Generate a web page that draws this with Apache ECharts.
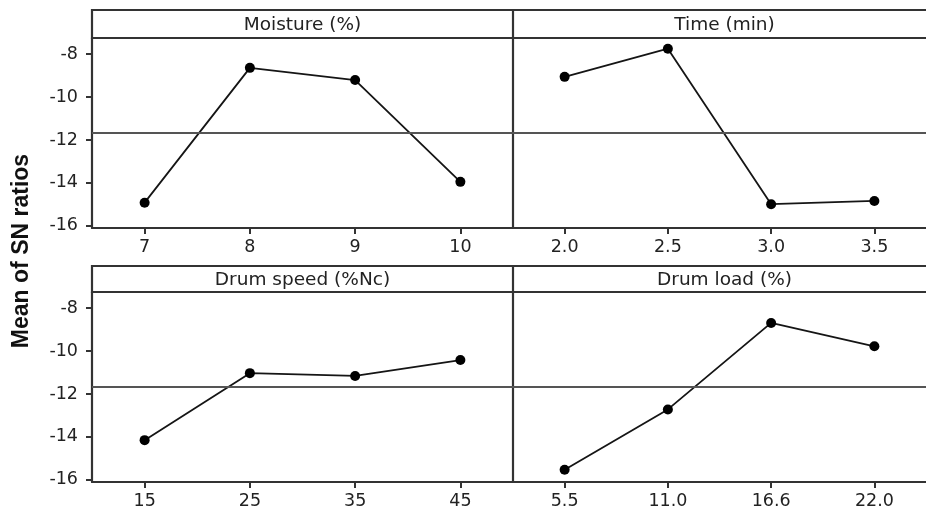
<!DOCTYPE html>
<html>
<head>
<meta charset="utf-8">
<script src="https://cdn.jsdelivr.net/npm/echarts@6/dist/echarts.min.js"></script>
<style>
html,body{margin:0;padding:0;background:#fff;}
#chart{width:926px;height:521px;}
</style>
</head>
<body>
<div id="chart"></div>
<script>
// ---- data ----
const panelTitles = ['Moisture (%)', 'Time (min)', 'Drum speed (%Nc)', 'Drum load (%)'];
const moistureLevels = ['7', '8', '9', '10'];
const moistureSN = [-14.92, -8.64, -9.21, -13.95];
const timeLevels = ['2.0', '2.5', '3.0', '3.5'];
const timeSN = [-9.06, -7.75, -14.99, -14.84];
const speedLevels = ['15', '25', '35', '45'];
const speedSN = [-14.15, -11.03, -11.16, -10.42];
const loadLevels = ['5.5', '11.0', '16.6', '22.0'];
const loadSN = [-15.53, -12.72, -8.69, -9.78];
const grandMean = -11.68;
const yMin = -16.1, yMax = -7.25;
const yAxisTitle = 'Mean of SN ratios';

// ---- layout ----
const AX = '#333333';
const TXT = '#222222';
const FONT = 'DejaVu Sans';
const colL = 92, colM = 513, colR = 936;
const rows = [{band: 10, top: 38, bottom: 228}, {band: 266, top: 292, bottom: 482}];
const levels = [moistureLevels, timeLevels, speedLevels, loadLevels];
const values = [moistureSN, timeSN, speedSN, loadSN];

const grids = [], xAxes = [], yAxes = [], series = [], graphics = [];
for (let i = 0; i < 4; i++) {
  const r = rows[Math.floor(i / 2)];
  const isLeft = i % 2 === 0;
  const left = isLeft ? colL : colM;
  const right = isLeft ? colM : colR;
  grids.push({left: left, top: r.top, width: right - left, height: r.bottom - r.top, containLabel: false});
  xAxes.push({
    type: 'category', gridIndex: i, data: levels[i], boundaryGap: true,
    axisLine: {show: true, lineStyle: {color: AX, width: 2.2}},
    axisTick: {show: true, alignWithLabel: true, length: 6, lineStyle: {color: AX, width: 2}},
    axisLabel: {color: TXT, fontFamily: FONT, fontSize: 17.5, margin: 10},
    splitLine: {show: false}
  });
  yAxes.push({
    type: 'value', gridIndex: i, min: yMin, max: yMax,
    axisLine: {show: true, lineStyle: {color: AX, width: 2.2}},
    axisTick: {show: isLeft, length: 6, lineStyle: {color: AX, width: 2}},
    axisLabel: {show: isLeft, color: TXT, fontFamily: FONT, fontSize: 17.5, margin: 14,
      showMinLabel: false, showMaxLabel: false,
      formatter: v => (Math.abs(v - Math.round(v)) < 1e-6 ? String(Math.round(v)) : '')},
    splitLine: {show: false}
  });
  series.push({
    type: 'line', xAxisIndex: i, yAxisIndex: i, data: values[i],
    symbol: 'circle', symbolSize: 10,
    lineStyle: {color: '#151515', width: 1.8},
    itemStyle: {color: '#000'},
    markLine: {
      silent: true, symbol: 'none', label: {show: false},
      lineStyle: {color: '#555555', width: 1.8, type: 'solid'},
      data: [{yAxis: grandMean}]
    },
    animation: false
  });
  // panel title
  graphics.push({
    type: 'text', x: (left + right) / 2, y: (r.band + r.top) / 2 + 1,
    style: {text: panelTitles[i], fill: TXT, font: '18.5px "' + FONT + '"', align: 'center', verticalAlign: 'middle'}
  });
}
// title bands
rows.forEach(r => {
  graphics.push({type: 'rect', shape: {x: colL, y: r.band, width: colR - colL, height: r.top - r.band},
    style: {fill: 'none', stroke: AX, lineWidth: 2.2}});
  graphics.push({type: 'line', shape: {x1: colM, y1: r.band, x2: colM, y2: r.top},
    style: {stroke: AX, lineWidth: 2.2}});
});
graphics.push({
  type: 'text', x: 22, y: 251, rotation: Math.PI / 2,
  style: {text: yAxisTitle, fill: '#111', font: 'bold 23px "Liberation Sans"', align: 'center', verticalAlign: 'middle'}
});

const chart = echarts.init(document.getElementById('chart'), null, {renderer: 'canvas'});
chart.setOption({
  animation: false,
  backgroundColor: '#fff',
  grid: grids, xAxis: xAxes, yAxis: yAxes, series: series, graphic: graphics
});
</script>
</body>
</html>
